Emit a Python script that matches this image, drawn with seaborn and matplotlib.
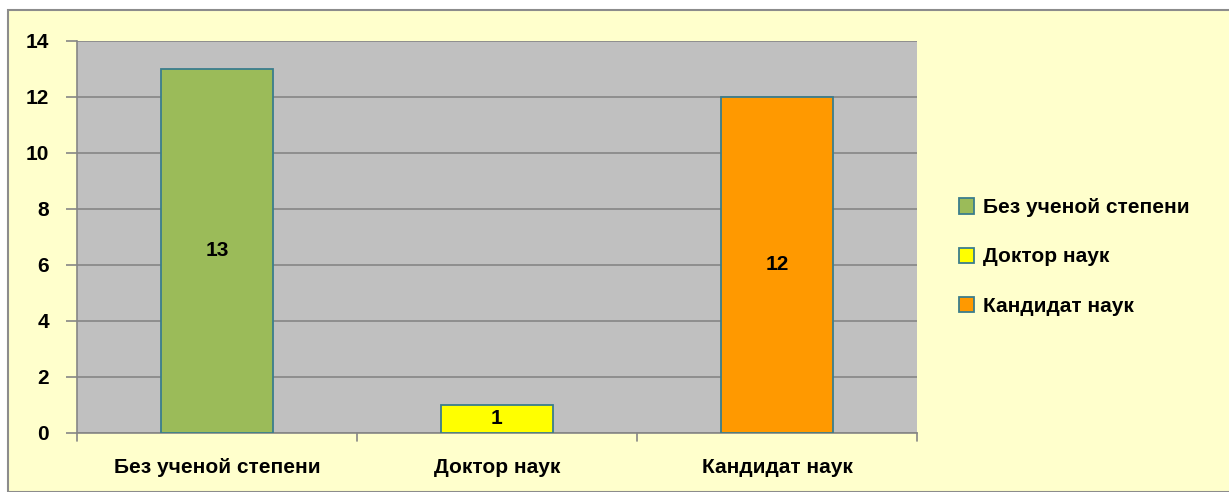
import matplotlib
matplotlib.use("Agg")
import matplotlib.pyplot as plt
import seaborn as sns
import pandas as pd
from matplotlib.patches import Rectangle, Patch
from matplotlib.transforms import blended_transform_factory

categories = ["Без ученой степени", "Доктор наук", "Кандидат наук"]
values = [13, 1, 12]
colors = ["#9BBB59", "#FFFF00", "#FF9900"]
yticks = [0, 2, 4, 6, 8, 10, 12, 14]

sns.set_theme(style="white")
plt.rcParams['font.family'] = ['Liberation Sans', 'DejaVu Sans']
plt.rcParams['font.weight'] = 'bold'
plt.rcParams['text.color'] = 'black'
plt.rcParams['xtick.color'] = 'black'
plt.rcParams['ytick.color'] = 'black'

FS = 15

fig = plt.figure(figsize=(12.29, 4.92), dpi=100)
fig.patch.set_facecolor("white")
fig.patches.append(Rectangle((8/1229, 0), 1.2, (492-10)/492, transform=fig.transFigure,
                             facecolor="#FFFFCC", edgecolor="#8C8C8C", linewidth=1.5, zorder=-10))
ax = fig.add_axes([77/1229, 59/492, 840/1229, 392/492])
ax.set_facecolor("#C0C0C0")

df = pd.DataFrame({"cat": categories, "val": values})
sns.barplot(data=df, x="cat", y="val", hue="cat", palette=colors, width=0.4, saturation=1,
            edgecolor="#3A7D8C", linewidth=1.3, legend=False, ax=ax, zorder=3)

ax.set_ylim(0, 14)
ax.set_xlim(-0.5, 2.5)
ax.set_yticks(yticks)
ax.set_yticklabels([str(t) for t in yticks], fontsize=FS, fontweight='bold', color='black')
ax.yaxis.grid(True, color="#868686", linewidth=1.2, zorder=0)
ax.set_axisbelow(True)
ax.set_xticks([0, 1, 2])
ax.set_xticklabels(categories, fontsize=FS, fontweight='bold', color='black')
ax.tick_params(axis='x', length=0, pad=18)
ax.tick_params(axis='y', length=8, color="#868686", width=1.2, direction='out', pad=12, left=True)

tr = blended_transform_factory(ax.transData, ax.transAxes)
for b in [-0.5, 0.5, 1.5, 2.5]:
    ax.plot([b, b], [0, -8/392], transform=tr, color="#868686", lw=1.2, clip_on=False)

for s in ["top", "right"]:
    ax.spines[s].set_visible(False)
for s in ["left", "bottom"]:
    ax.spines[s].set_color("#868686")
    ax.spines[s].set_linewidth(1.2)
ax.set_xlabel("")
ax.set_ylabel("")

for i, v in enumerate(values):
    ax.text(i, v/2, str(v), ha="center", va="center", fontsize=FS, fontweight='bold', color="black", zorder=5)

handles = [Patch(facecolor=c, edgecolor="#3A7D8C", linewidth=1.3, label=l) for c, l in zip(colors, categories)]
leg = fig.legend(handles=handles, loc="center left", bbox_to_anchor=(940/1229, 1 - 257/492),
                 frameon=False, handlelength=0.75, handleheight=0.75,
                 handletextpad=0.4, labelspacing=1.45, prop={'weight': 'bold', 'size': FS})
for t in leg.get_texts():
    t.set_color('black')

fig.savefig("out.png", dpi=100, facecolor=fig.get_facecolor())
